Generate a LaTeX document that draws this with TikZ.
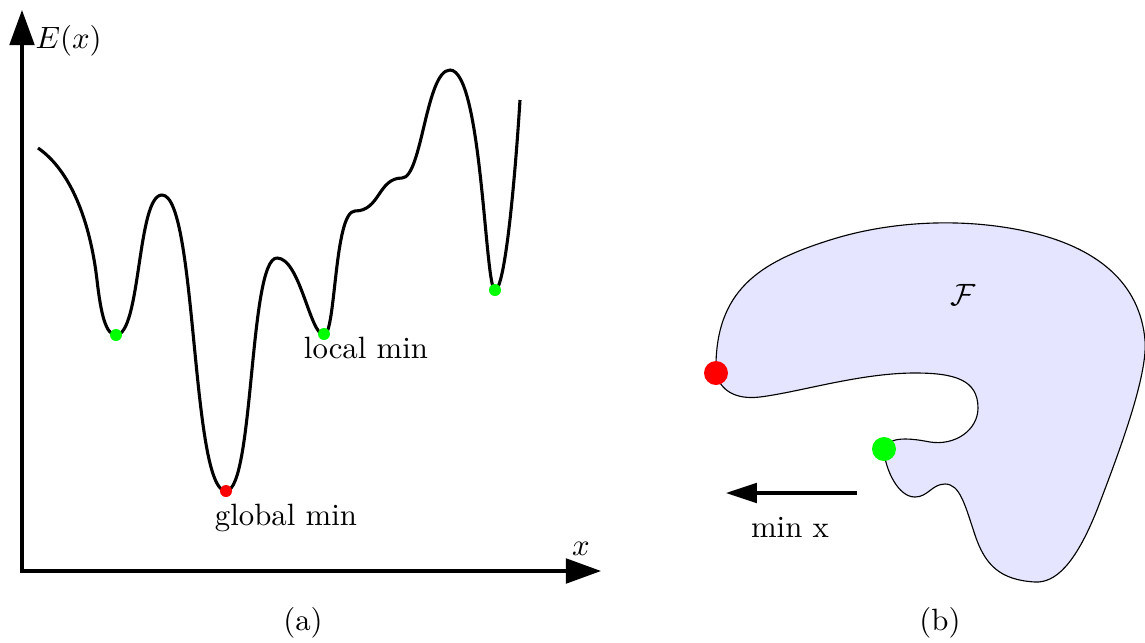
\documentclass[11pt,tikz,border=0pt]{standalone}
\usetikzlibrary{arrows.meta}
\begin{document}
\begin{tikzpicture}[x=0.0125cm,y=-0.0125cm,
  axis/.style={line width=1.1pt,-{Triangle[length=12.5pt,width=8.8pt]}},
  curve/.style={line width=1.1pt,line join=round},
  lbl/.style={inner sep=0pt,anchor=base},
  mindot/.style={circle,inner sep=0pt},
  region/.style={draw=black,line width=0.4pt,fill=blue!10}]
\useasboundingbox (0,0) rectangle (1145,642);
% ---------- (a)
\coordinate (O) at (22,571);
\coordinate (ytop) at (22,10);
\coordinate (xend) at (601,571);
\draw[axis] (O) -- (ytop);
\draw[axis] ([xshift=-0.55pt]O) -- (xend);
\node[lbl,anchor=base west] (Ex) at (35,48) {$E(x)$};
\node[lbl] (xl) at (581,555) {$x$};
\draw[curve] (38,148) .. controls (70,170) and (90,220) .. (97,280)
  .. controls (101,315) and (106,335) .. (116,335)
  .. controls (141,335) and (137,195) .. (162,195)
  .. controls (197,195) and (191,491) .. (226,491)
  .. controls (254,491) and (249,258) .. (277,258)
  .. controls (300,258) and (310,335) .. (324,335)
  .. controls (336,335) and (334,211) .. (355,211)
  .. controls (380,211) and (378,178) .. (402,178)
  .. controls (422,178) and (426,70) .. (450,70)
  .. controls (482,70) and (485,290) .. (495,290)
  .. controls (505,290) and (515,180) .. (520,100);
\node[mindot,fill=green,minimum size=12*0.0125cm] (m1) at (116,335) {};
\node[mindot,fill=red,minimum size=12*0.0125cm] (gm) at (226,491) {};
\node[mindot,fill=green,minimum size=12*0.0125cm] (m2) at (324,334) {};
\node[mindot,fill=green,minimum size=12*0.0125cm] (m3) at (495,290) {};
\node[lbl] (lmin) at (366,358) {local min};
\node[lbl] (glmin) at (286,525) {global min};
\node[lbl] (capa) at (303,630) {(a)};
% ---------- (b)
\draw[region] (716,373) .. controls (714,290) and (760,262) .. (830,240)
  .. controls (890,221) and (960,218) .. (1020,230)
  .. controls (1100,246) and (1140,285) .. (1145,340)
  .. controls (1148,375) and (1120,450) .. (1097,510)
  .. controls (1075,565) and (1055,583) .. (1035,582)
  .. controls (1000,580) and (985,565) .. (975,535)
  .. controls (965,505) and (960,484) .. (945,484)
  .. controls (932,484) and (928,497) .. (915,497)
  .. controls (898,497) and (886,470) .. (884,452)
  .. controls (885,437) and (905,437) .. (930,442)
  .. controls (955,446) and (978,430) .. (978,408)
  .. controls (978,380) and (955,373) .. (915,373)
  .. controls (860,373) and (800,392) .. (760,397)
  .. controls (735,400) and (720,390) .. (716,373) -- cycle;
\node[mindot,fill=red,minimum size=24*0.0125cm] (rb) at (716,373) {};
\node[mindot,fill=green,minimum size=24*0.0125cm] (gb) at (884,449) {};
\node[lbl] (F) at (963,305) {$\mathcal{F}$};
\coordinate (ma) at (857,493);
\coordinate (mb) at (726,493);
\draw[line width=1.1pt,-{Triangle[length=11pt,width=7pt]}] (ma) -- (mb);
\node[lbl] (minx) at (790,537) {min x};
\node[lbl] (capb) at (940,630) {(b)};
\end{tikzpicture}
\end{document}
